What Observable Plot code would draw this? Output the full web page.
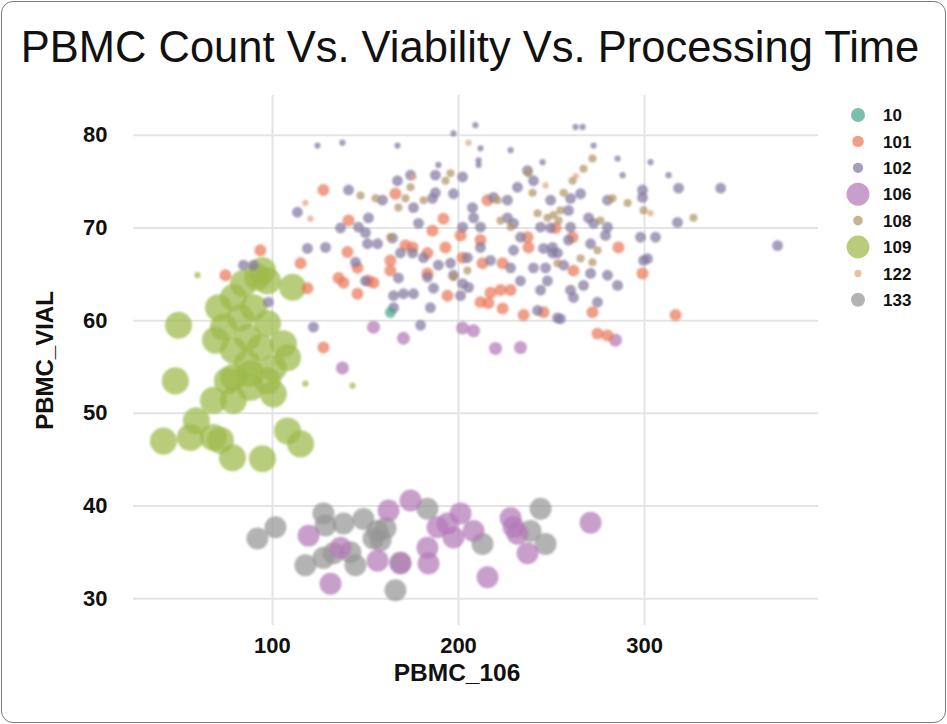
<!DOCTYPE html>
<html>
<head>
<meta charset="utf-8">
<script src="https://cdn.jsdelivr.net/npm/d3@7"></script>
<script src="https://cdn.jsdelivr.net/npm/@observablehq/plot@0.6"></script>
<style>
  html, body { margin: 0; padding: 0; background: #fff; }
  #wrap { position: relative; width: 947px; height: 724px; overflow: hidden; font-family: "Liberation Sans", Arial, sans-serif; }
  #card { position: absolute; left: 1px; top: 1px; width: 945px; height: 722px; box-sizing: border-box; border: 1.5px solid #7a7a7a; border-radius: 12px; }
  #title { position: absolute; left: 0; top: 23px; width: 940px; text-align: center; font-size: 43.5px; color: #111; white-space: nowrap; }
  #chart { position: absolute; left: 0; top: 90px; }
  #legend { position: absolute; left: 0; top: 0; }
</style>
</head>
<body>
<div id="wrap">
  <div id="card"></div>
  <div id="title">PBMC Count Vs. Viability Vs. Processing Time</div>
  <div id="chart"></div>
  <svg id="legend" width="947" height="724"></svg>
</div>
<script>
// ---- Data (x = PBMC_106, y = PBMC_VIAL, optional third value = processing time) ----
const groups = ["10", "101", "102", "106", "108", "109", "122", "133"];
const groupColors = ["#4aa68f", "#ea7859", "#8378a0", "#b378b7", "#b19567", "#9cba4a", "#dfa683", "#969696"];
const groupTime = {"10": 9, "101": 11, "102": 9, "106": 37, "108": 5, "109": 56, "122": 3, "133": 37};
const legendTime = [15, 10, 8, 40, 7, 40, 4, 15];

const g10 = [[163.4, 60.9]];

const g101 = [
  [127.4,74.1],[140.9,70.8],[140.3,67.4],[115.1,66.2],[118.8,63.5],[135.5,64.6],[138.2,64.1],
  [145.7,62.9],[145.7,65.7],[151.6,64.3],[154.3,64.1],[163.4,66.5],[163.4,65.4],[166.1,73.7],
  [171.5,68.1],[175.3,67.9],[186.0,69.7],[183.3,67.3],[183.3,65.1],[191.9,71.0],[193.0,67.9],
  [194.1,62.7],[201.1,69.2],[202.2,66.8],[211.8,68.7],[215.6,73.0],[212.9,66.2],[211.8,62.0],
  [216.1,61.9],[217.2,63.0],[222.6,63.3],[223.7,61.3],[228.0,63.3],[223.7,66.2],[237.1,69.0],
  [237.6,67.9],[235.0,60.6],[245.7,60.9],[127.4,57.1],[93.5,67.6],[74.7,64.9],
  [252.2,70.0],[261.3,69.0],[261.8,65.4],[286.0,67.9],[298.9,65.1],[272.0,60.9],[316.7,60.6],
  [274.7,58.6],[280.1,58.4]
];

const g102 = [
  // small, long-stored samples near the top
  [124.2,78.9,3],[137.6,79.2,3],[167.2,78.9,3],[197.3,80.2,3],[209.1,81.1,3],[211.8,78.6,3],
  [228.0,78.4,3],[210.8,77.3,3],[210.8,76.8,3],[245.2,77.1,3],[189.2,76.8,3],[262.9,80.9,3],
  [266.7,80.9,3],[272.6,78.9,3],[285.5,77.5,3],[303.2,77.1,3],[312.9,75.7,3],[288.2,75.7,3],
  // main body
  [113.4,71.7],[140.9,74.1],[151.6,71.1],[159.1,73.0],[167.2,75.1],[174.2,75.7],[187.6,75.7],
  [187.6,73.8],[186.0,73.2],[202.2,75.5],[178.5,70.5],[175.8,72.2],[136.6,70.0],[146.2,70.1],
  [150.0,69.5],[151.1,68.3],[156.5,68.3],[164.5,68.9],[118.8,67.8],[128.5,67.9],[144.6,66.3],
  [150.0,64.3],[167.7,64.6],[168.8,67.3],[175.3,67.3],[181.2,66.8],[189.2,66.0],[183.3,64.7],
  [186.6,63.5],[184.9,61.4],[165.1,62.7],[170.4,62.9],[175.8,62.9],[165.1,61.4],[122.0,59.3],
  [179.6,59.5],[195.7,66.2],[197.3,64.9],[202.2,70.1],[204.8,66.8],[202.2,64.0],[205.4,63.6],
  [201.1,62.7],[207.5,72.2],[208.1,71.1],[211.8,70.1],[211.8,67.9],[217.2,66.5],[226.3,73.0],
  [226.3,71.1],[229.6,70.5],[233.3,69.0],[229.6,67.6],[228.0,65.7],[233.3,64.3],[240.3,65.7],
  [244.1,70.1],[245.7,67.8],[249.5,73.0],[250.5,67.3],[244.1,63.3],[242.5,61.1],[253.2,60.3],
  [231.7,74.4],[237.1,76.2],[240.3,75.1],[218.8,73.3],[197.3,73.7],
  [259.1,71.9],[249.5,70.0],[260.2,70.1],[259.1,68.7],[250.5,67.9],[253.2,67.3],[256.5,66.0],
  [246.8,65.7],[247.8,64.3],[260.2,63.3],[261.8,62.5],[254.8,60.2],[267.2,63.8],[271.0,65.1],
  [274.7,62.0],[280.1,64.9],[285.5,63.8],[271.0,68.3],[272.6,70.5],[280.1,70.1],[279.0,69.2],
  [269.9,71.1],[265.6,73.7],[280.1,73.0],[297.8,69.0],[305.9,69.0],[299.5,66.5],[301.6,66.7],
  [298.9,74.1],[298.9,73.3],[317.7,70.6],[318.3,74.3],[340.9,74.3],[371.5,68.1],[260.2,73.2],
  [84.4,66.0],[89.8,66.0],[97.8,62.0]
];

const g108 = [
  [147.3,73.5],[155.4,73.2],[167.7,72.2],[171.5,73.2],[174.2,74.4],[181.2,73.0],[193.0,75.1],
  [195.7,75.9],[163.4,69.0],[197.3,64.7],[204.8,65.4],[221.0,73.0],[222.6,70.8],[228.0,70.1],
  [237.6,75.9],[239.8,73.8],[242.5,71.6],[247.8,71.1],[253.8,70.8],[267.2,76.4],[272.0,77.5],
  [261.3,75.1],[256.5,73.8],[282.8,73.2],[290.9,72.7],[299.5,71.9],[326.3,71.1],[251.1,71.4],
  [254.8,71.9],[274.7,67.6],[265.6,66.7],[253.2,66.2],[272.0,66.3],[276.3,70.8]
];

const g122 = [
  [117.7,72.7],[120.4,71.0],[205.4,79.2],[175.8,75.5],[246.8,74.6],[263.0,75.6],[303.2,71.6]
];

const g106 = [
  [119.4,36.8],[131.2,31.6],[136.6,35.5],[162.4,39.5],[174.2,40.6],[156.5,34.1],[168.8,33.8],
  [183.3,35.5],[183.9,33.8],[188.7,37.7],[194.1,38.1],[201.1,39.2],[197.3,36.6],[208.1,37.3],
  [215.6,32.3],[228.0,38.7],[231.7,37.0],[237.1,34.9],[271.0,38.2],[229.6,37.7],
  [154.3,59.3,13],[170.4,58.1,13],[202.2,59.2,13],[208.1,58.9,13],[219.9,57.0,13],
  [233.3,57.1,13],[284.4,57.9,13],[137.6,54.9,13]
];

const g109 = [
  [49.5,59.5],[47.8,53.5],[41.4,47.0],[55.9,47.4],[59.1,49.2],[68.3,47.4],[78.5,45.2],[94.6,45.1],
  [108.1,48.1],[115.1,46.7],[68.3,51.4],[79.0,51.4],[69.4,57.9],[71.0,61.4],[79.0,62.5],
  [84.4,64.0],[91.9,64.7],[97.3,64.3],[110.8,63.6],[97.3,59.7],[105.9,57.5],[100.5,54.9],
  [88.2,54.3],[79.0,53.9],[86.6,58.2],[93.5,57.1],[79.0,56.8],[86.6,55.4],[73.7,59.3],
  [82.8,60.3],[89.8,61.4],[75.8,53.5],[88.2,52.8],[97.3,53.5],[108.1,56.0],[100.5,52.1],
  [94.6,65.4],[72.0,47.1],
  [59.7,64.9,3],[117.7,53.2,3],[143.0,53.0,3]
];

const g133 = [
  [91.9,36.5],[101.6,37.7],[117.7,33.6],[127.4,39.2],[128.5,37.9],[138.2,38.1],[132.8,34.9],
  [127.4,34.4],[141.9,35.0],[144.6,33.6],[148.9,38.6],[154.3,36.5],[156.5,37.3],[158.1,36.3],
  [160.8,37.6],[168.8,33.9],[166.1,30.9],[183.3,39.7],[212.9,35.9],[238.7,37.3],[244.1,39.7],
  [246.8,35.9]
];

const xTicks = [100, 200, 300];
const yTicks = [30, 40, 50, 60, 70, 80];

// ---- Build table ----
const byGroup = {"10": g10, "101": g101, "102": g102, "106": g106, "108": g108, "109": g109, "122": g122, "133": g133};
const drawOrder = ["102", "108", "122", "101", "10", "109", "133", "106"];
const rows = [];
for (const g of drawOrder) {
  for (const p of byGroup[g]) {
    rows.push({group: g, x: p[0], y: p[1], t: p.length > 2 ? p[2] : groupTime[g]});
  }
}

const fontFamily = '"Liberation Sans", Arial, Helvetica, sans-serif';

const plot = Plot.plot({
  width: 947,
  height: 634,
  marginLeft: 133,
  marginRight: 129,
  marginTop: 5,
  marginBottom: 99,
  style: {fontFamily, fontSize: "22px", fontWeight: "bold", color: "#111", background: "transparent"},
  x: {domain: [25.3, 393.5]},
  y: {domain: [27.1, 84.3]},
  r: {domain: [0, 60], range: [0, 14]},
  color: {domain: groups, range: groupColors},
  marks: [
    Plot.gridX(xTicks, {stroke: "#e4e4e4", strokeWidth: 2, strokeOpacity: 1}),
    Plot.gridY(yTicks, {stroke: "#e4e4e4", strokeWidth: 2, strokeOpacity: 1}),
    Plot.dot(rows, {x: "x", y: "y", r: "t", fill: "group", fillOpacity: 0.72, stroke: null}),
    Plot.axisX(xTicks, {tickSize: 0, tickPadding: 12, label: null}),
    Plot.axisY(yTicks, {tickSize: 0, tickPadding: 26, label: null}),
    Plot.text(["PBMC_106"], {text: d => d, frameAnchor: "bottom", textAnchor: "middle", dx: -19, dy: 55, fontSize: 24.5, fontWeight: "bold", fill: "#111"}),
    Plot.text(["PBMC_VIAL"], {text: d => d, frameAnchor: "left", textAnchor: "middle", dx: -88, rotate: -90, fontSize: 24, fontWeight: "bold", fill: "#111"})
  ]
});
d3.select(plot).selectAll('g[aria-label="dot"]').style("filter", "blur(0.8px)");
document.getElementById("chart").appendChild(plot);

// ---- Legend (color + size per group) ----
const rScale = plot.scale("r");
const leg = d3.select("#legend");
const legendY0 = 115, legendStep = 26.4;
groups.forEach((g, i) => {
  const cy = legendY0 + i * legendStep;
  leg.append("circle")
    .attr("cx", 858).attr("cy", cy)
    .attr("r", rScale.apply(legendTime[i]))
    .attr("fill", groupColors[i]).attr("fill-opacity", 0.72)
    .style("filter", "blur(0.6px)");
  leg.append("text")
    .attr("x", 883).attr("y", cy)
    .attr("dy", "0.36em")
    .attr("font-family", fontFamily)
    .attr("font-size", 17).attr("font-weight", "bold")
    .attr("fill", "#111")
    .text(g);
});
</script>
</body>
</html>
